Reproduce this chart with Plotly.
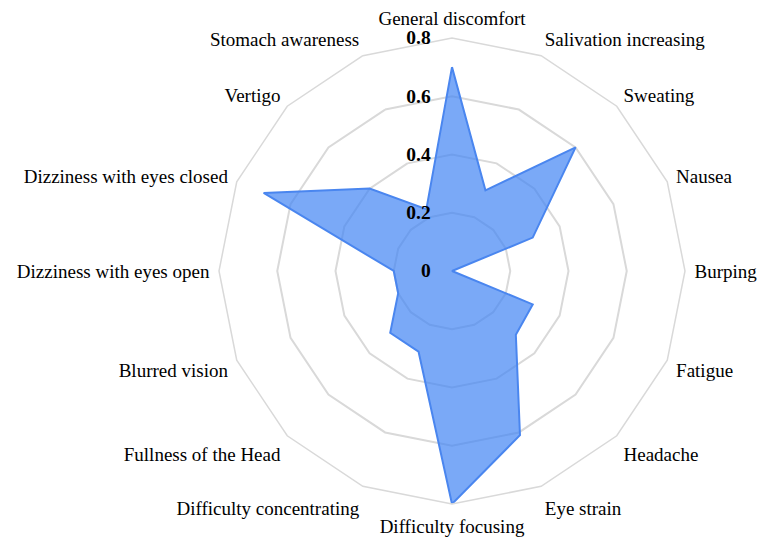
import plotly.graph_objects as go

categories = ["General discomfort", "Salivation increasing", "Sweating", "Nausea",
              "Burping", "Fatigue", "Headache", "Eye strain", "Difficulty focusing",
              "Difficulty concentrating", "Fullness of the Head", "Blurred vision",
              "Dizziness with eyes open", "Dizziness with eyes closed", "Vertigo",
              "Stomach awareness"]
values = [0.70, 0.30, 0.60, 0.30, 0.0, 0.30, 0.31, 0.61, 0.80, 0.30, 0.30, 0.20,
          0.20, 0.70, 0.40, 0.23]
radial_ticks = [0, 0.2, 0.4, 0.6, 0.8]
radial_ticktext = ["0", "0.2", "0.4", "0.6", "0.8"]

fig = go.Figure()
fig.add_trace(go.Scatterpolar(
    r=values + values[:1],
    theta=categories + categories[:1],
    mode="lines",
    fill="toself",
    fillcolor="rgba(66,133,244,0.7)",
    line=dict(color="#4a86ef", width=2),
    hoverinfo="skip",
))

fig.update_layout(
    width=758, height=540,
    paper_bgcolor="white",
    showlegend=False,
    margin=dict(l=219, r=73, t=38, b=36),
    font=dict(family="Liberation Serif, Times New Roman, serif", size=19, color="black"),
    polar=dict(
        bgcolor="white",
        gridshape="linear",
        angularaxis=dict(
            rotation=90, direction="clockwise",
            showline=True, linecolor="#d9d9d9", linewidth=1.5,
            showgrid=False, ticks="outside", ticklen=5, tickcolor="rgba(0,0,0,0)",
            tickfont=dict(size=19, family="Liberation Serif, serif", color="black"),
        ),
        radialaxis=dict(
            range=[0, 0.8], tickvals=radial_ticks, ticktext=radial_ticktext,
            angle=90, tickangle=90, side="counterclockwise", showline=False,
            ticks="outside", ticklen=14, tickcolor="rgba(0,0,0,0)",
            gridcolor="#d9d9d9", gridwidth=1.5,
            tickfont=dict(size=19.5, family="Liberation Serif, serif", color="black", weight="bold"),
        ),
    ),
)

fig.write_html("out.html", config={"displayModeBar": False},
               post_script="document.body.style.margin='0px';")
